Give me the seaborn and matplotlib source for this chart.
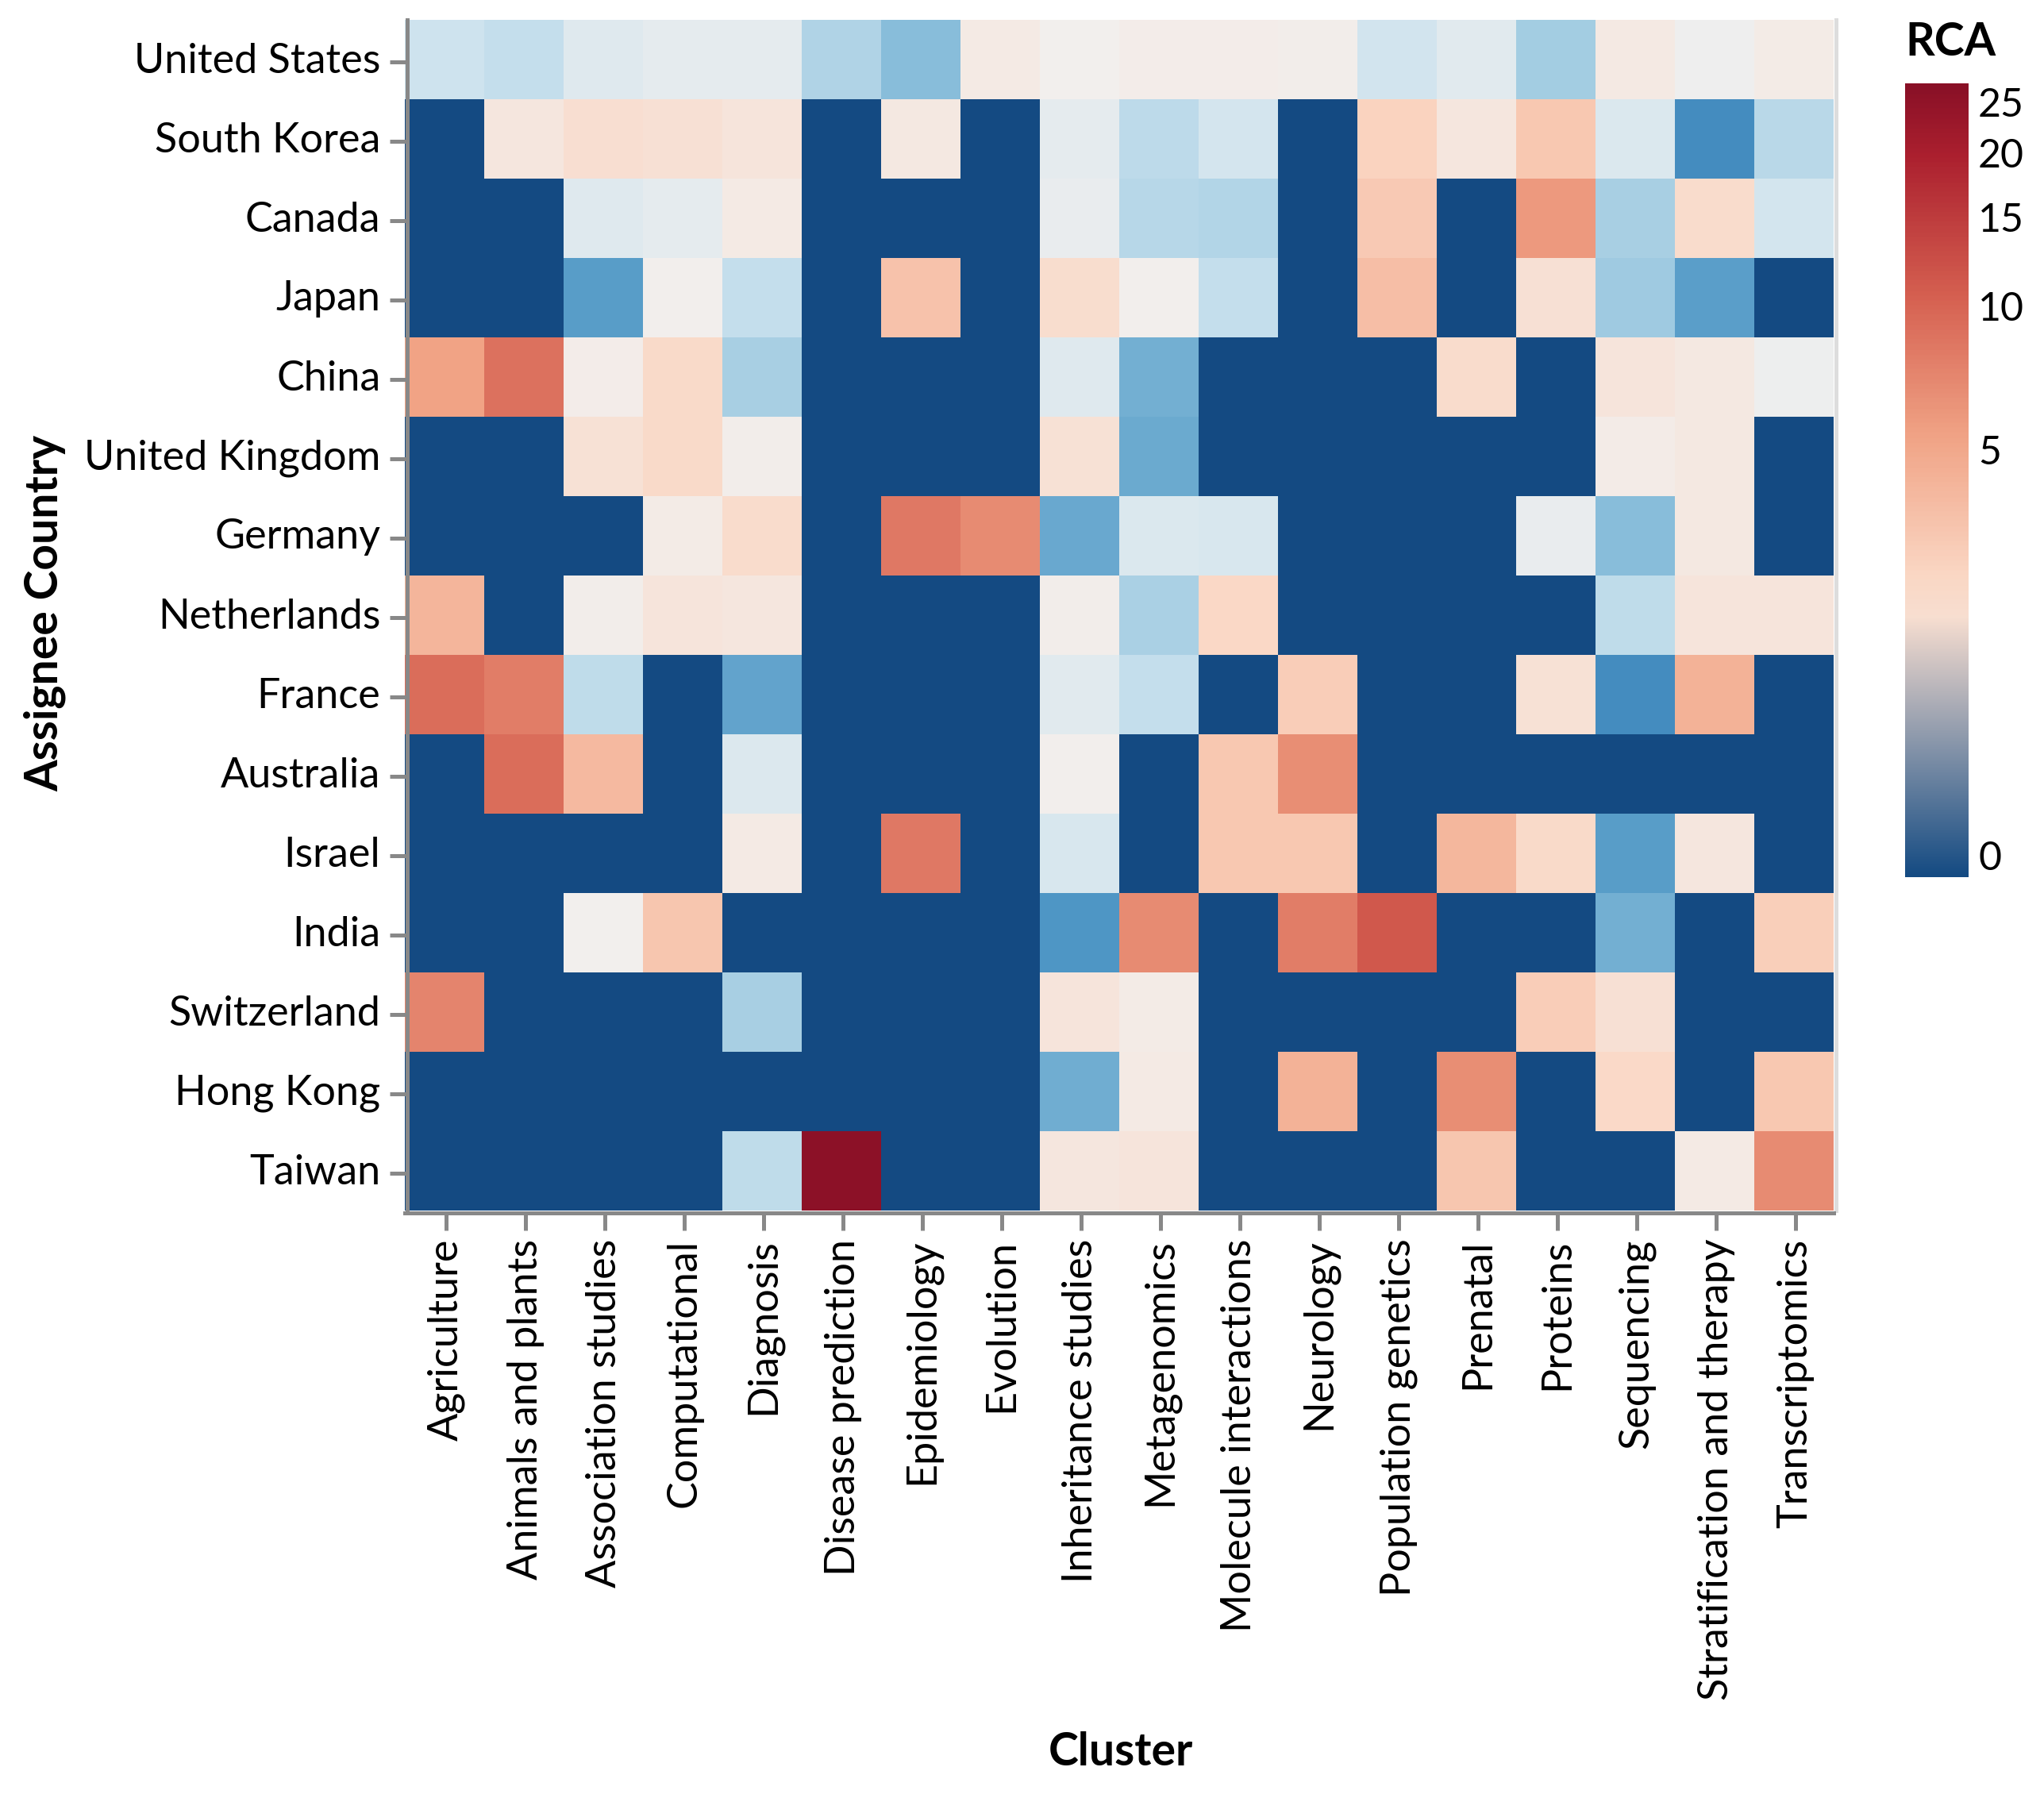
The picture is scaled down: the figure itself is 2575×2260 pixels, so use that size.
import numpy as np
import pandas as pd
import matplotlib
matplotlib.use('Agg')
import matplotlib.pyplot as plt
from matplotlib.colors import FuncNorm, LinearSegmentedColormap, to_rgb
from matplotlib.transforms import ScaledTranslation
import seaborn as sns

countries = ['United States', 'South Korea', 'Canada', 'Japan', 'China', 'United Kingdom', 'Germany',
             'Netherlands', 'France', 'Australia', 'Israel', 'India', 'Switzerland', 'Hong Kong', 'Taiwan']
clusters = ['Agriculture', 'Animals and plants', 'Association studies', 'Computational', 'Diagnosis',
            'Disease prediction', 'Epidemiology', 'Evolution', 'Inheritance studies', 'Metagenomics',
            'Molecule interactions', 'Neurology', 'Population genetics', 'Prenatal', 'Proteins',
            'Sequencing', 'Stratification and therapy', 'Transcriptomics']

united_states = [.72, .68, .85, .9, .9, .6, .45, 1.3, 1.0, 1.15, 1.15, 1.1, .75, .87, .55, 1.35, .97, 1.25]
south_korea = [0, 1.5, 2.0, 1.9, 1.6, 0, 1.4, 0, .9, .65, .77, 0, 2.8, 1.5, 3.3, .82, .23, .63]
canada = [0, 0, .85, .9, 1.3, 0, 0, 0, .93, .62, .61, 0, 3.2, 0, 6, .56, 2.2, .76]
japan = [0, 0, .3, 1.05, .68, 0, 3.5, 0, 2.1, 1.05, .68, 0, 3.7, 0, 1.9, .53, .31, 0]
china = [5.5, 9, 1.15, 2.3, .56, 0, 0, 0, .85, .38, 0, 0, 0, 2.2, 0, 1.6, 1.4, .96]
united_kingdom = [0, 0, 1.8, 2.3, 1.1, 0, 0, 0, 1.8, .36, 0, 0, 0, 0, 0, 1.2, 1.4, 0]
germany = [0, 0, 0, 1.25, 2.2, 0, 8.5, 7, .35, .82, .8, 0, 0, 0, .93, .45, 1.4, 0]
netherlands = [4.3, 0, 1.1, 1.6, 1.5, 0, 0, 0, 1.1, .57, 2.5, 0, 0, 0, 0, .66, 1.6, 1.6]
france = [9.5, 8, .66, 0, .33, 0, 0, 0, .87, .68, 0, 3.0, 0, 0, 1.8, .23, 4.5, 0]
australia = [0, 9.5, 4, 0, .83, 0, 0, 0, 1.05, 0, 3.3, 6.8, 0, 0, 0, 0, 0, 0]
israel = [0, 0, 0, 0, 1.3, 0, 8.5, 0, .8, 0, 3.3, 3.3, 0, 4.2, 2.3, .3, 1.5, 0]
india = [0, 0, 1.0, 3.4, 0, 0, 0, 0, .27, 7, 0, 8, 11.5, 0, 0, .38, 0, 2.9]
switzerland = [7.5, 0, 0, 0, .56, 0, 0, 0, 1.6, 1.25, 0, 0, 0, 0, 3.0, 1.9, 0, 0]
hong_kong = [0, 0, 0, 0, 0, 0, 0, 0, .37, 1.3, 0, 4.5, 0, 6.8, 0, 2.4, 0, 3.3]
taiwan = [0, 0, 0, 0, .66, 27, 0, 0, 1.5, 1.6, 0, 0, 0, 3.4, 0, 0, 1.3, 7]

rows = [united_states, south_korea, canada, japan, china, united_kingdom, germany, netherlands,
        france, australia, israel, india, switzerland, hong_kong, taiwan]
legend_ticks = [0, 5, 10, 15, 20, 25]

W, H = 2575, 2260
RCA_MAX = 27.6
GREY = '#888888'

plt.rcParams['font.family'] = ['Lato', 'DejaVu Sans']

# symlog scale with the midpoint of the colours at RCA = 1
def frac(v):
    return np.log1p(v) / np.log1p(RCA_MAX)

def forward(v):
    v = np.asarray(v, dtype=float)
    f, mid = frac(np.maximum(v, 0)), frac(1.0)
    return np.where(f < mid, 0.5 * f / mid, 0.5 + 0.5 * (f - mid) / (1 - mid))

def inverse(y):
    y = np.asarray(y, dtype=float)
    mid = frac(1.0)
    f = np.where(y < 0.5, y * 2 * mid, mid + (y - 0.5) * 2 * (1 - mid))
    return np.expm1(f * np.log1p(RCA_MAX))

# smoothed red-blue stops, dropping the far ends
base = np.array([to_rgb(c) for c in ['#053061', '#2166ac', '#4393c3', '#92c5de', '#d1e5f0', '#f7f7f7',
                                     '#fddbc7', '#f4a582', '#d6604d', '#b2182b', '#67001f']])
knots = base.copy()
knots[1:-1] = (base[:-2] + 4 * base[1:-1] + base[2:]) / 6
ts = np.linspace(0.05, 0.95, 256)
samples = np.column_stack([np.interp(ts, np.linspace(0, 1, 11), knots[:, i]) for i in range(3)])
cmap = LinearSegmentedColormap.from_list('rca', samples, N=256)
norm = FuncNorm((forward, inverse), vmin=0, vmax=RCA_MAX)

df = pd.DataFrame(rows, index=countries, columns=clusters)

fig = plt.figure(figsize=(W / 100, H / 100), dpi=100)
ax = fig.add_axes([510 / W, 1 - 1525 / H, 1800 / W, 1500 / H])
sns.heatmap(df, cmap=cmap, norm=norm, cbar=False, ax=ax, linewidths=0)

ax.set_xticks(np.arange(len(clusters)) + 0.52, clusters)
ax.set_yticks(np.arange(len(countries)) + 0.525, countries)
ax.tick_params(length=15.8, width=3.6, color=GREY, labelsize=37.5, pad=8)
ax.tick_params(axis='x', labelrotation=90)
ax.tick_params(axis='y', labelrotation=0)
ax.set_xlabel('')
ax.set_ylabel('')

for side in ax.spines:
    ax.spines[side].set_linewidth(3.6)
    ax.spines[side].set_visible(side != 'top')
ax.spines['left'].set_color(GREY)
ax.spines['left'].set_position(('outward', -1.8))
ax.spines['bottom'].set_color(GREY)
ax.spines['bottom'].set_position(('outward', 1.8))
ax.spines['right'].set_color('#dddddd')
ax.spines['right'].set_position(('outward', 1.8))

# the country names sit a little above their ticks (after set_position, it resets the ticks)
up = ScaledTranslation(0, 5 / 100, fig.dpi_scale_trans)
for lab in ax.get_yticklabels():
    lab.set_transform(lab.get_transform() + up)

fig.text(57 / W, 1 - 772 / H, 'Assignee Country', rotation=90, ha='center', va='center',
         fontsize=41, fontweight='bold')
fig.text(1412 / W, 1 - 2208 / H, 'Cluster', ha='center', va='center', fontsize=41, fontweight='bold')
fig.text(2400 / W, 1 - 54 / H, 'RCA', ha='left', va='center', fontsize=41, fontweight='bold')

# legend bar: straight blend from the low end up to RCA = 2, scale colours above
cax = fig.add_axes([2400 / W, 1 - 1105 / H, 80 / W, 1000 / H])
pos = np.linspace(0, 1, 512)
vals = np.expm1(pos * np.log1p(RCA_MAX))
colours = cmap(norm(vals))[:, :3]
low = pos < frac(2.0)
top = np.array(cmap(norm(2.0))[:3])
colours[low] = colours[0] + (top - colours[0]) * (pos[low] / frac(2.0))[:, None]
cax.imshow(colours[:, None, :], origin='lower', aspect='auto', extent=[0, 1, 0, 1])
cax.set_axis_off()
for v in legend_ticks:
    cax.text(1.15, frac(v), str(v), transform=cax.transAxes, ha='left',
             va='bottom' if v == 0 else 'center', fontsize=36)

fig.savefig('out.png', dpi=100, facecolor='white')
